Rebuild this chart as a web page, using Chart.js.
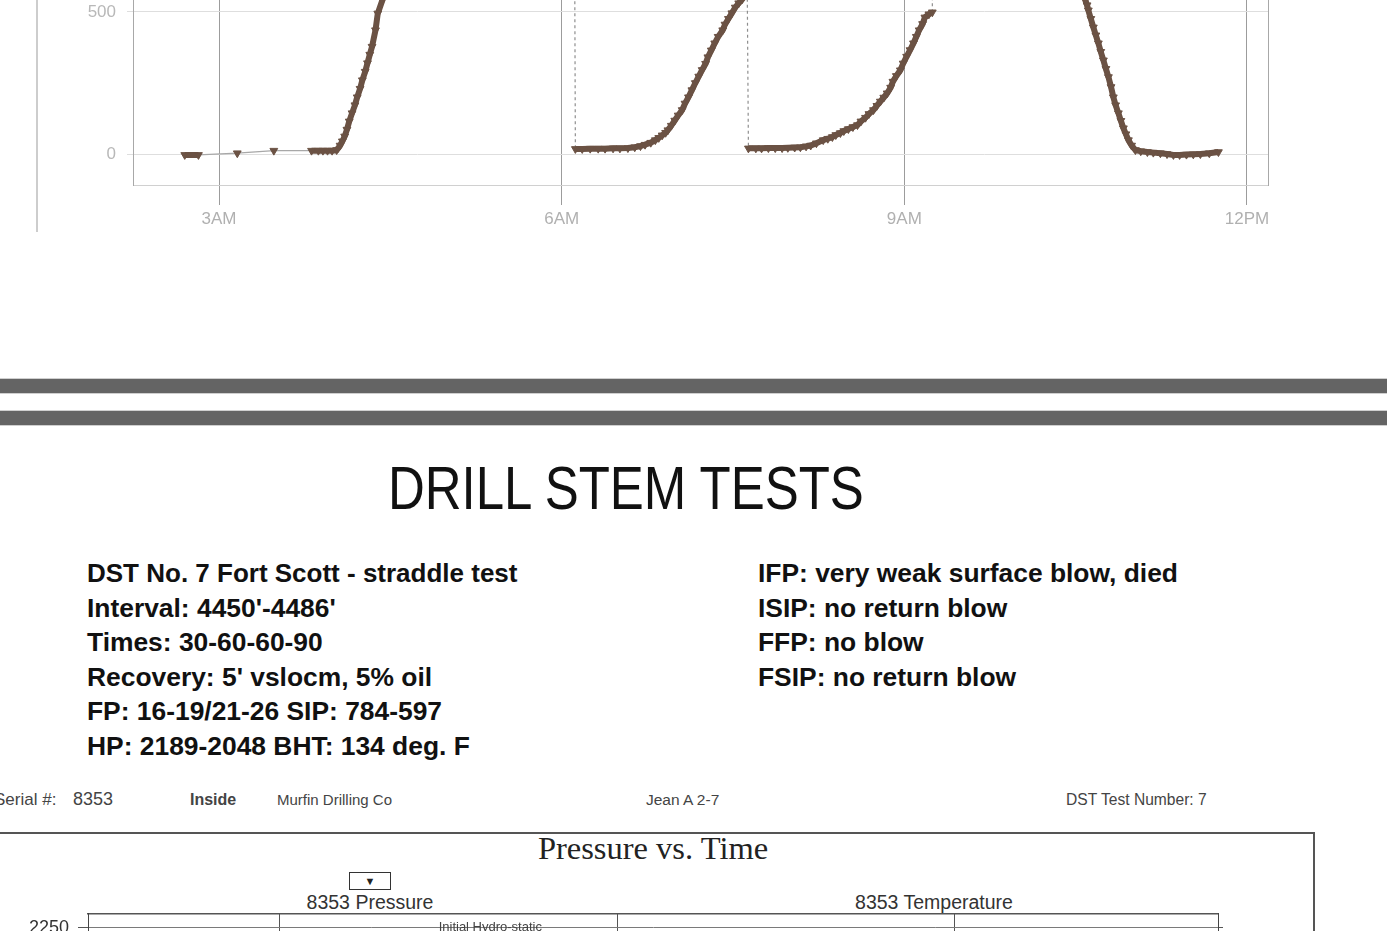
<!DOCTYPE html>
<html><head><meta charset="utf-8">
<script src="https://cdn.jsdelivr.net/npm/chart.js@4.4.0/dist/chart.umd.min.js"></script>
<style>
html,body{margin:0;padding:0;background:#fff;width:1387px;height:931px;overflow:hidden;position:relative;font-family:"Liberation Sans",Arial,sans-serif;}
.abs{position:absolute;white-space:nowrap;}
.bar{left:0;width:1387px;height:14px;background:#646464;border-top:1px solid #cfcfcf;border-bottom:1px solid #cfcfcf;}
.blk{font-weight:bold;font-size:26.4px;line-height:34.5px;color:#111;}
.hdr{font-size:15.5px;color:#444;top:791px;}
</style></head><body>
<canvas id="topChart" width="1387" height="750" style="position:absolute;left:0;top:-520px"></canvas>
<div class="abs" style="left:36px;top:0;width:2px;height:232px;background:#cdcdcd"></div>

<div class="abs bar" style="top:378px"></div>
<div class="abs bar" style="top:410px"></div>

<div class="abs" style="left:388px;top:457px;font-size:62px;line-height:62px;color:#111;transform:scaleX(0.822);transform-origin:left top;">DRILL STEM TESTS</div>

<div class="abs blk" style="left:87px;top:556px;"><span style="font-size:26px">DST No. 7 Fort Scott - straddle test</span><br>Interval: 4450'-4486'<br>Times: 30-60-60-90<br>Recovery: 5' vslocm, 5% oil<br>FP: 16-19/21-26 SIP: 784-597<br>HP: 2189-2048 BHT: 134 deg. F</div>
<div class="abs blk" style="left:758px;top:556px;">IFP: very weak surface blow, died<br>ISIP: no return blow<br>FFP: no blow<br>FSIP: no return blow</div>

<div class="abs hdr" style="left:-6px;font-size:17px;top:790px;">Serial #:</div>
<div class="abs hdr" style="left:73px;font-size:18px;top:789px;">8353</div>
<div class="abs hdr" style="left:190px;font-weight:bold;font-size:16px;">Inside</div>
<div class="abs hdr" style="left:277px;font-size:15px;">Murfin Drilling Co</div>
<div class="abs hdr" style="left:646px;">Jean A 2-7</div>
<div class="abs hdr" style="left:1066px;font-size:15.6px;">DST Test Number: 7</div>

<div class="abs" style="left:-5px;top:832px;width:1318px;height:200px;border-top:2px solid #555;border-right:2px solid #555;"></div>
<div class="abs" style="left:0;width:1306px;top:830px;text-align:center;font-family:'Liberation Serif','Times New Roman',serif;font-size:32.5px;line-height:36px;color:#222;">Pressure vs. Time</div>
<div class="abs" style="left:349px;top:872px;width:40px;height:16px;border:1px solid #333;text-align:center;font-size:11px;line-height:16px;color:#222;">&#9660;</div>
<div class="abs" style="left:270px;width:200px;top:891px;text-align:center;font-size:19.5px;line-height:22px;color:#333;">8353 Pressure</div>
<div class="abs" style="left:834px;width:200px;top:891px;text-align:center;font-size:19.5px;line-height:22px;color:#333;">8353 Temperature</div>

<canvas id="botChart" width="1387" height="560" style="position:absolute;left:0;top:894px"></canvas>

<script>
// ---- Top chart data (time in decimal hours, pressure in psi) ----
const pressureTime = [
  2.70,2.82,3.16,3.48,3.81,3.87,3.91,3.95,3.99,4.03,4.06,4.08,4.10,4.12,4.14,4.165,4.19,4.21,4.235,4.255,4.28,4.30,4.32,4.34,4.37,4.39,4.43,
  4.50,4.60,4.70,4.80,4.90,5.00,5.50,6.10,
  6.12,6.18,6.25,6.32,6.38,6.45,6.51,6.58,6.64,6.69,6.73,6.78,6.82,6.85,6.88,6.91,6.93,6.96,6.99,7.02,7.055,7.08,7.11,7.14,7.17,7.20,7.23,7.26,7.28,7.31,7.34,7.37,7.41,7.43,7.46,7.49,7.52,7.55,7.58,7.61,7.625,
  7.635,7.70,7.75,7.81,7.87,7.93,7.98,8.04,8.09,8.14,8.18,8.23,8.29,8.33,8.37,8.40,8.44,8.47,8.51,8.55,8.59,8.62,8.66,8.69,8.73,8.76,8.79,8.82,8.85,8.88,8.90,8.93,8.965,8.99,9.02,9.05,9.08,9.105,9.13,9.16,9.18,9.215,9.245,
  9.26,9.60,9.90,10.10,10.30,10.45,10.53,
  10.585,10.60,10.611,10.633,10.655,10.677,10.699,10.72,10.743,10.765,10.787,10.81,10.83,10.85,10.874,10.896,10.918,10.94,10.962,10.99,11.023,11.07,11.128,11.18,11.242,11.30,11.356,11.41,11.47,11.53,11.592,11.67,11.75
];
const pressureValue = [
  -3,-3,3,12,12,12,12,12,12,14,30,45,62,86,115,144,172,200,230,260,290,320,350,378,436,495,541,
  800,1150,1500,1850,2150,2189,2189,2185,
  18,18,19,19,19,20,20,21,24,28,33,40,49,57,66,75,84,100,118,136,155,178,200,225,250,273,296,318,341,365,390,413,436,456,476,496,516,531,545,560,568,
  20,20,20,21,21,21,22,23,24,27,30,38,49,54,60,67,74,81,88,95,102,115,128,141,155,170,185,199,214,234,255,275,295,319,343,366,390,413,436,458,481,492,499,
  2048,2048,2040,1700,1200,850,680,
  541,524,506,476,446,418,390,360,330,300,271,236,200,172,144,117,91,70,49,30,14,10,7,5,3,0,-3,-3,-2,-1,0,3,7
];
const topHourTicks = [3,4,5,6,7,8,9,10,11,12];
const topLabelHours = [3,6,9,12];
const topLabelText = ['3AM','6AM','9AM','12PM'];
const topPressureTicks = [0,500,1000,1500,2000];

// ---- Bottom chart (only its top edge is visible) ----
const botGridHours = [3,6,9];
const botPressureTicks = [0,250,500,750,1000,1250,1500,1750,2000,2250];
const botEventTimes = [4.87];
const botEventValues = [2189];
const botEventLabels = ['Initial Hydro-static'];

const BROWN = '#6b5244';

function isJump(ctx){
  return Math.abs(ctx.p1.parsed.y - ctx.p0.parsed.y) > 400 && Math.abs(ctx.p1.parsed.x - ctx.p0.parsed.x) < 0.05;
}
function isDense(ctx){ return Math.abs(ctx.p1.x - ctx.p0.x) < 14; }

new Chart(document.getElementById('topChart'), {
  type: 'line',
  data: { datasets: [{
    data: pressureTime.map((t,i)=>({x:t,y:pressureValue[i]})),
    pointStyle: 'triangle', pointRotation: 180, pointRadius: 4.5,
    pointBackgroundColor: BROWN, pointBorderColor: BROWN, pointBorderWidth: 1,
    borderColor: '#a8a8a8', borderWidth: 1, tension: 0,
    segment: {
      borderColor: ctx => isJump(ctx) ? '#8e8e8e' : (isDense(ctx) ? BROWN : '#a8a8a8'),
      borderWidth: ctx => isJump(ctx) ? 1.2 : (isDense(ctx) ? 6 : 1.2),
      borderDash: ctx => isJump(ctx) ? [3,3] : undefined
    }
  }]},
  options: {
    responsive: false, animation: false, devicePixelRatio: 1,
    layout: { padding: { top: 20, left: 0, right: 0, bottom: 0 } },
    plugins: { legend: { display: false }, tooltip: { enabled: false } },
    scales: {
      x: {
        type: 'linear', min: 2.247, max: 12.184,
        afterBuildTicks: s => { s.ticks = topHourTicks.map(v=>({value:v})); },
        afterFit: s => { s.height = 45; },
        ticks: {
          autoSkip: false, maxRotation: 0, padding: 4, color: '#b0b0b0',
          font: { family: 'Liberation Sans', size: 17 },
          callback: v => { const i = topLabelHours.indexOf(v); return i >= 0 ? topLabelText[i] : ''; }
        },
        grid: {
          tickLength: 20,
          color: c => topLabelHours.includes(c.tick && c.tick.value) ? '#9c9c9c' : 'rgba(0,0,0,0)',
          tickColor: c => topLabelHours.includes(c.tick && c.tick.value) ? '#9c9c9c' : 'rgba(0,0,0,0)'
        },
        border: { color: '#d0d0d0' }
      },
      y: {
        min: -109, max: 2298,
        afterBuildTicks: s => { s.ticks = topPressureTicks.map(v=>({value:v})); },
        afterFit: s => { s.width = 133; },
        ticks: { color: '#b8b8b8', padding: 11, font: { family: 'Liberation Sans', size: 17 }, callback: v => String(v) },
        grid: { color: '#dedede', tickColor: '#dedede', tickLength: 6 },
        border: { color: '#a8a8a8' }
      },
      y2: {
        position: 'right', min: -109, max: 2298,
        afterFit: s => { s.width = 119; },
        ticks: { display: false },
        grid: { drawOnChartArea: false, drawTicks: false },
        border: { color: '#a8a8a8' }
      }
    }
  }
});

const eventLabelPlugin = {
  id: 'eventLabels',
  afterDatasetsDraw(chart){
    const c = chart.ctx, xs = chart.scales.x, ys = chart.scales.y;
    c.save();
    c.font = '13px "Liberation Sans", Arial, sans-serif';
    c.fillStyle = '#444';
    c.textAlign = 'center';
    c.textBaseline = 'middle';
    botEventTimes.forEach((t,i)=>{
      c.fillText(botEventLabels[i], xs.getPixelForValue(t), ys.getPixelForValue(botEventValues[i]) - 12);
    });
    c.restore();
  }
};

new Chart(document.getElementById('botChart'), {
  type: 'line',
  data: { datasets: [{
    data: botEventTimes.map((t,i)=>({x:t,y:botEventValues[i]})),
    pointRadius: 0, borderWidth: 0, showLine: false
  }]},
  options: {
    responsive: false, animation: false, devicePixelRatio: 1,
    layout: { padding: { top: 7, left: 0, right: 0, bottom: 0 } },
    plugins: { legend: { display: false }, tooltip: { enabled: false } },
    scales: {
      x: {
        type: 'linear', min: 1.293, max: 11.34,
        afterBuildTicks: s => { s.ticks = botGridHours.map(v=>({value:v})); },
        afterFit: s => { s.height = 40; },
        ticks: { display: false },
        grid: { color: '#555', drawTicks: false },
        border: { color: '#444' }
      },
      xTop: {
        type: 'linear', position: 'top', min: 1.293, max: 11.34,
        afterFit: s => { s.height = 0; },
        ticks: { display: false },
        grid: { drawOnChartArea: false, drawTicks: false },
        border: { color: '#555', width: 1.5 }
      },
      y: {
        min: -250, max: 2321,
        afterBuildTicks: s => { s.ticks = botPressureTicks.map(v=>({value:v})); },
        afterFit: s => { s.width = 88; },
        ticks: { color: '#333', padding: 9, font: { family: 'Liberation Sans', size: 18 }, callback: v => String(v) },
        grid: { color: '#7a7a7a', tickColor: '#555', tickLength: 10 },
        border: { color: '#444' }
      },
      y2: {
        position: 'right', min: -250, max: 2321,
        afterBuildTicks: s => { s.ticks = botPressureTicks.map(v=>({value:v})); },
        afterFit: s => { s.width = 169; },
        ticks: { display: false },
        grid: { drawOnChartArea: false, tickLength: 5, tickColor: '#555' },
        border: { color: '#444' }
      }
    }
  },
  plugins: [eventLabelPlugin]
});
</script>
</body></html>
